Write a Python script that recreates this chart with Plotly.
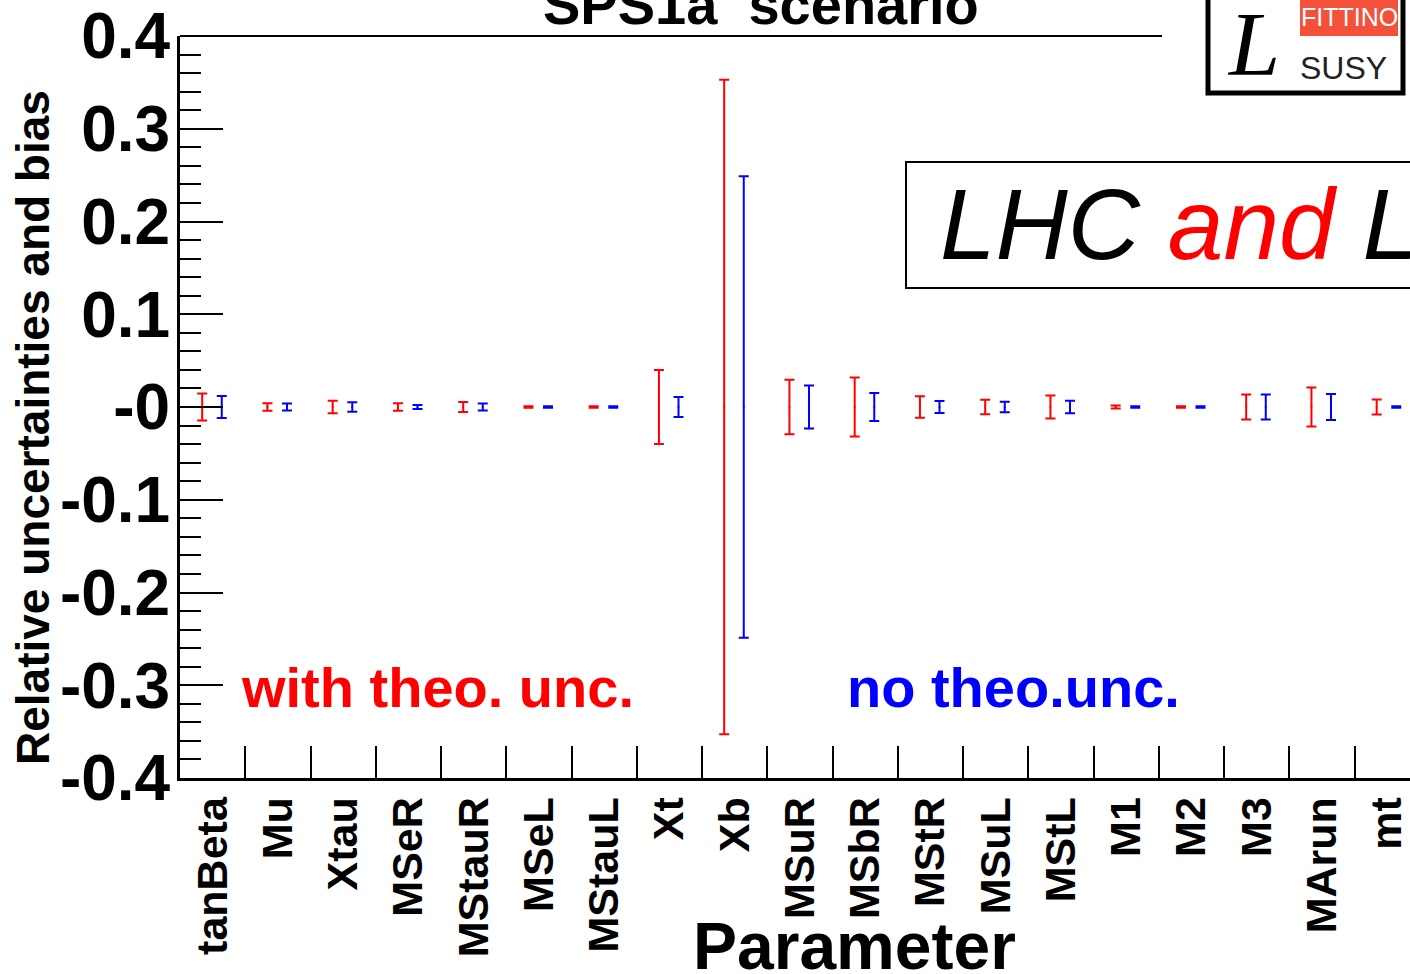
import plotly.graph_objects as go

# Fit parameters (x categories)
parameters = ["tanBeta", "Mu", "Xtau", "MSeR", "MStauR", "MSeL", "MStauL", "Xt", "Xb",
              "MSuR", "MSbR", "MStR", "MSuL", "MStL", "M1", "M2", "M3", "MArun", "mt"]

# Relative bias (central value) and relative uncertainty, with theoretical uncertainties
bias_theo = [0.0, 0.0, 0.0, 0.0, 0.0, 0.0, 0.0, 0.0, 0.0, 0.0,
             0.0, 0.0, 0.0, 0.0, 0.0, 0.0, 0.0, 0.0, 0.0]
unc_theo = [0.0145, 0.0040, 0.0067, 0.0040, 0.0055, 0.0008, 0.0008, 0.0400, 0.3527, 0.0295,
            0.0318, 0.0117, 0.0078, 0.0125, 0.0017, 0.0008, 0.0135, 0.0210, 0.0081]

# Same, without theoretical uncertainties
bias_exp = [0.0, 0.0, 0.0, 0.0, 0.0, 0.0, 0.0, 0.0, 0.0, 0.0,
            0.0, 0.0, 0.0, 0.0, 0.0, 0.0, 0.0, 0.0, 0.0]
unc_exp = [0.0118, 0.0037, 0.0052, 0.0021, 0.0039, 0.0007, 0.0007, 0.0109, 0.2487, 0.0231,
           0.0152, 0.0066, 0.0057, 0.0068, 0.0007, 0.0007, 0.0135, 0.0140, 0.0007]

y_ticks = [-0.4, -0.3, -0.2, -0.1, 0.0, 0.1, 0.2, 0.3, 0.4]
y_ticktext = ["-0.4", "-0.3", "-0.2", "-0.1", "-0", "0.1", "0.2", "0.3", "0.4"]

RED = "#ff0000"
BLUE = "#0000ff"
FONT = "Liberation Sans, Arial, Helvetica, sans-serif"

W, H = 1410, 974
ML, MT, MB = 180, 36, 196
PW, PH = W - ML, H - MT - MB
CAT_W = 65.25  # pixel width of one category bin


def fx(px):
    return (px - ML) / PW


def fy(py):
    return (MT + PH - py) / PH


idx = list(range(len(parameters)))
x_theo = [i - 0.16 for i in idx]
x_exp = [i + 0.14 for i in idx]

fig = go.Figure()
fig.add_trace(go.Scatter(
    x=x_theo, y=bias_theo, mode="markers", name="with theo. unc.",
    marker=dict(size=2, color=RED),
    error_y=dict(type="data", array=unc_theo, symmetric=True, color=RED, thickness=2, width=5),
    showlegend=False,
))
fig.add_trace(go.Scatter(
    x=x_exp, y=bias_exp, mode="markers", name="no theo.unc.",
    marker=dict(size=2, color=BLUE),
    error_y=dict(type="data", array=unc_exp, symmetric=True, color=BLUE, thickness=2, width=5),
    showlegend=False,
))

x_max = -0.5 + PW / CAT_W
boundaries = [i + 0.5 for i in idx[:-1]]

fig.update_layout(
    width=W, height=H, autosize=False,
    margin=dict(l=ML, r=0, t=MT, b=MB, pad=0),
    paper_bgcolor="white", plot_bgcolor="white",
    font=dict(family=FONT, color="black"),
    xaxis=dict(
        range=[-0.5, x_max], tickmode="array", tickvals=idx, ticktext=parameters,
        ticks="", tickangle=-90, ticklabelstandoff=-1, ticklabeloverflow="allow",
        tickfont=dict(family=FONT, size=43, weight="bold", color="black"),
        showline=True, linewidth=3, linecolor="black", showgrid=False, zeroline=False,
        minor=dict(tickmode="array", tickvals=boundaries, ticks="inside", ticklen=32,
                   tickwidth=2, tickcolor="black", showgrid=False),
    ),
    yaxis=dict(
        range=[-0.4, 0.4], tickmode="array", tickvals=y_ticks, ticktext=y_ticktext,
        ticks="inside", ticklen=43, tickwidth=2, tickcolor="black", ticklabelstandoff=-6,
        ticklabeloverflow="allow",
        tickfont=dict(family=FONT, size=64, weight="bold", color="black"),
        showline=True, linewidth=3, linecolor="black", showgrid=False, zeroline=False,
        minor=dict(tickmode="linear", tick0=0.0, dtick=0.02, ticks="inside", ticklen=21,
                   tickwidth=2, tickcolor="black", showgrid=False),
    ),
)

shapes = [
    # upper frame line
    dict(type="line", xref="paper", yref="paper", x0=0, x1=fx(1162), y0=1, y1=1,
         line=dict(color="black", width=2)),
    # experiment label box
    dict(type="rect", xref="paper", yref="paper", x0=fx(906), x1=fx(1440), y0=fy(162), y1=fy(288),
         line=dict(color="black", width=2), fillcolor="white", layer="above"),
    # Fittino logo
    dict(type="rect", xref="paper", yref="paper", x0=fx(1208), x1=fx(1403), y0=fy(-5), y1=fy(93),
         line=dict(color="black", width=5), fillcolor="white", layer="above"),
    dict(type="rect", xref="paper", yref="paper", x0=fx(1300), x1=fx(1398), y0=fy(-5), y1=fy(36),
         line=dict(width=0), fillcolor="#f4513a", layer="above"),
]
fig.update_layout(shapes=shapes)

annotations = [
    dict(text="Relative uncertainties and bias", x=fx(33), y=fy(428), textangle=-90,
         font=dict(size=46, weight="bold")),
    dict(text="Parameter", x=fx(854), y=fy(946), font=dict(size=66, weight="bold")),
    dict(text="SPS1a\u00a0\u00a0scenario", x=fx(761), y=fy(5), font=dict(size=56, weight="bold")),
    dict(text="with theo. unc.", x=fx(437), y=fy(687), font=dict(size=56, weight="bold", color=RED)),
    dict(text="no theo.unc.", x=fx(1013), y=fy(687), font=dict(size=56, weight="bold", color=BLUE)),
    dict(text="<i>LHC <span style='color:#ff0000'>and</span> LC</i>", x=fx(938), y=fy(224),
         xanchor="left", font=dict(size=100)),
    dict(text="FITTINO", x=fx(1349), y=fy(17), font=dict(size=25, color="white")),
    dict(text="SUSY", x=fx(1343), y=fy(68), font=dict(size=32, color="#222222")),
    dict(text="<i>L</i>", x=fx(1253), y=fy(44),
         font=dict(family="Liberation Serif, DejaVu Serif, serif", size=92, color="black")),
]
for a in annotations:
    a.setdefault("xref", "paper")
    a.setdefault("yref", "paper")
    a.setdefault("showarrow", False)
    a.setdefault("xanchor", "center")
    a.setdefault("yanchor", "middle")
fig.update_layout(annotations=annotations)

fig.write_html("out.html")
